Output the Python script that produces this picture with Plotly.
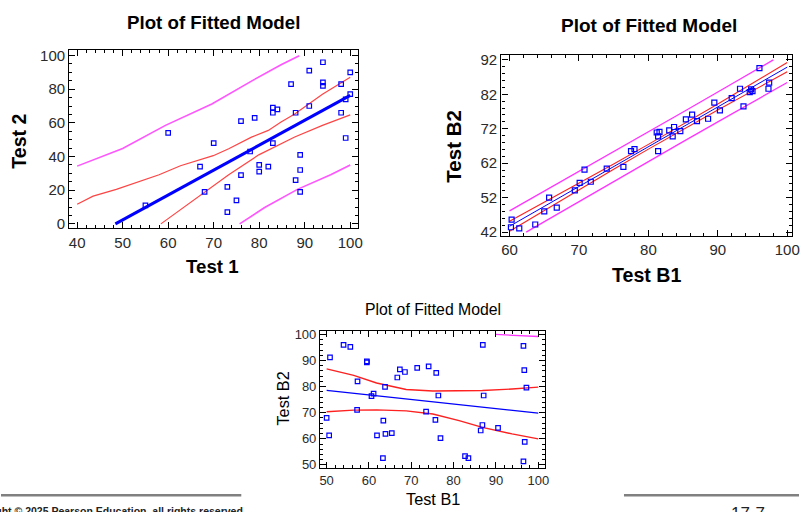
import plotly.graph_objects as go

W, H = 807, 512

# ---------------- data: top-left (Test 1 vs Test 2) ----------------
tl_x = [55, 60, 67, 70, 68, 73, 73, 75, 76, 76, 79, 78, 80, 80, 82, 83, 83, 84, 83, 87,
        88, 88, 89, 89, 89, 91, 91, 94, 94, 94, 98, 98, 99, 99, 100, 100]
tl_y = [11, 54, 34, 48, 19, 22, 7, 14, 29, 61, 63, 43, 35, 31, 34, 69, 66, 68, 48, 83,
        66, 26, 41, 32, 19, 91, 70, 96, 84, 82, 83, 66, 74, 51, 90, 77]
tl_fit_x = [48.4, 100]
tl_fit_y = [0, 76.3]
tl_cu_x = [40, 43.5, 48.6, 58, 62.7, 66.7, 69.9, 73.3, 78.3, 82, 84.8, 87.8, 93.9, 100]
tl_cu_y = [11.7, 16.5, 20.5, 29.2, 34.5, 38, 40.5, 44.6, 51.5, 55.5, 60.5, 65.3, 77, 87.1]
tl_cl_x = [58.4, 68, 73.3, 79.9, 87.8, 93.9, 100]
tl_cl_y = [0, 19, 29.2, 41, 51.6, 58.5, 64.7]
tl_pu_x = [40, 50, 59.4, 69.6, 78.3, 84.8, 88.8]
tl_pu_y = [34.3, 44.8, 58.5, 71.2, 84.8, 94.5, 99.8]
tl_pl_x = [75.7, 81.2, 88.4, 95.7, 100]
tl_pl_y = [0, 9.7, 20.5, 29.2, 35]

# ---------------- data: top-right (Test B1 vs Test B2) ----------------
tr_x = [60.2, 60.3, 61.4, 63.7, 65.0, 65.7, 66.8, 69.4, 70.1, 70.8, 71.7, 74.0, 76.4,
        77.5, 78.0, 81.2, 81.6, 81.4, 81.4, 83.0, 83.7, 83.5, 84.6, 85.4, 86.3, 87.0,
        88.6, 89.5, 90.3, 92.0, 93.2, 93.7, 94.8, 95.0, 94.6, 96.0, 97.3, 97.4]
tr_y = [43.4, 45.6, 43.1, 44.2, 48.0, 52.0, 49.1, 54.1, 56.3, 60.1, 56.6, 60.4, 60.9,
        65.5, 66.1, 70.9, 71.1, 69.8, 65.5, 71.5, 72.5, 69.8, 71.3, 74.7, 76.1, 74.2,
        74.9, 79.6, 77.3, 80.9, 83.6, 78.5, 83.4, 82.9, 82.6, 89.6, 83.6, 85.4]
tr_lx = [60, 65, 70, 75, 80, 85, 90, 95, 100]
tr_fit = [43.68, 49.45, 55.23, 61.0, 66.77, 72.55, 78.32, 84.09, 89.87]
tr_cu = [45.12, 50.63, 56.18, 61.78, 67.46, 73.28, 79.20, 85.19, 91.22]
tr_cl = [42.24, 48.27, 54.28, 60.22, 66.08, 71.82, 77.44, 82.99, 88.52]
tr_pu_x = [60, 65, 70, 75, 80, 85, 90, 95, 98.0]
tr_pu_y = [48.16, 53.85, 59.57, 65.31, 71.06, 76.85, 82.65, 88.47, 92.0]
tr_pl_x = [62.4, 65, 70, 75, 80, 85, 90, 95, 100]
tr_pl_y = [42.0, 45.05, 50.89, 56.69, 62.48, 68.25, 73.99, 79.71, 85.42]

# ---------------- data: bottom (Test B1 vs Test B2) ----------------
b_x = [50.0, 50.6, 50.8, 54.0, 55.6, 57.2, 57.3, 59.5, 59.5, 60.6, 61.1, 61.9, 63.3,
       63.4, 63.8, 63.9, 65.4, 66.7, 67.3, 68.5, 71.4, 73.5, 74.1, 75.7, 75.9, 76.4,
       76.9, 82.7, 83.5, 86.4, 86.8, 86.9, 87.1, 90.5, 96.5, 96.7, 96.8, 96.5, 97.2]
b_y = [68.0, 61.3, 91.2, 96.0, 95.2, 71.1, 82.0, 89.3, 89.7, 76.4, 77.3, 61.3, 52.6,
       67.0, 79.9, 61.9, 62.2, 83.5, 86.6, 85.6, 87.2, 70.4, 87.8, 67.3, 85.3, 76.6,
       60.3, 53.4, 52.6, 63.2, 65.3, 96.0, 76.6, 64.2, 95.6, 86.3, 58.8, 51.4, 79.6]
b_lx = [50, 56.4, 61.8, 68.8, 75.1, 81.3, 86.8, 93.8, 100]
b_fit_x = [50, 100]
b_fit_y = [78.6, 69.85]
b_cu = [86.8, 84.3, 81.4, 78.9, 78.3, 78.3, 78.5, 79.1, 79.8]
b_cl = [70.4, 71.0, 71.1, 70.7, 69.5, 67.0, 64.4, 61.9, 60.0]
b_pu_x = [89.9, 95, 100]
b_pu_y = [100, 99.6, 99.2]

BLUE = "#0000FF"
RED = "#FF2020"
MAG = "#FF33FF"
FONT = "Liberation Sans, Arial, sans-serif"

fig = go.Figure()


def add_line(x, y, color, width, ax):
    fig.add_trace(go.Scatter(x=x, y=y, mode="lines", line=dict(color=color, width=width),
                             xaxis="x" + ax, yaxis="y" + ax, hoverinfo="skip"))


def add_pts(x, y, size, ax):
    fig.add_trace(go.Scatter(x=x, y=y, mode="markers",
                             marker=dict(symbol="square-open", size=size, color=BLUE,
                                         line=dict(width=1.2, color=BLUE)),
                             xaxis="x" + ax, yaxis="y" + ax, hoverinfo="skip"))


# top-left
add_line(tl_pu_x, tl_pu_y, "#FF55FF", 1.6, "")
add_line(tl_pl_x, tl_pl_y, "#FF55FF", 1.6, "")
add_line(tl_cu_x, tl_cu_y, "#FF4444", 1.2, "")
add_line(tl_cl_x, tl_cl_y, "#FF4444", 1.2, "")
add_line(tl_fit_x, tl_fit_y, BLUE, 3.0, "")
add_pts(tl_x, tl_y, 4.5, "")

# top-right
add_line(tr_pu_x, tr_pu_y, MAG, 1.3, "2")
add_line(tr_pl_x, tr_pl_y, MAG, 1.3, "2")
add_line(tr_lx, tr_cu, RED, 1.1, "2")
add_line(tr_lx, tr_cl, RED, 1.1, "2")
add_line(tr_lx, tr_fit, BLUE, 1.0, "2")
add_pts(tr_x, tr_y, 5, "2")

# bottom
add_line(b_pu_x, b_pu_y, MAG, 1.3, "3")
add_line(b_lx, b_cu, RED, 1.4, "3")
add_line(b_lx, b_cl, RED, 1.4, "3")
add_line(b_fit_x, b_fit_y, BLUE, 1.3, "3")
add_pts(b_x, b_y, 4.5, "3")


def px(x):
    return x / W


def py(y):
    return 1 - y / H


def axis(domain, rng, dtick, minor, tick0, size, anchor):
    return dict(domain=domain, range=rng, dtick=dtick, tick0=tick0, showgrid=False,
                zeroline=False, showline=True, linecolor="black", linewidth=1.3,
                mirror="ticks", ticks="inside", ticklen=6, tickwidth=1, tickcolor="black",
                minor=dict(ticks="inside", ticklen=3, tickwidth=1, tickcolor="black",
                           dtick=minor, tick0=tick0, showgrid=False),
                tickfont=dict(family=FONT, size=size, color="#2a2a2a"),
                anchor=anchor, fixedrange=True)


layout = dict(
    width=W, height=H, margin=dict(l=0, r=0, t=0, b=0),
    paper_bgcolor="white", plot_bgcolor="white", showlegend=False,
    xaxis=axis([px(69), px(361)], [38.26, 101.7], 10, 2, 40, 15, "y"),
    yaxis=axis([py(228), py(47)], [-2.7, 103.1], 20, 5, 0, 15, "x"),
    xaxis2=axis([px(506), px(800)], [58.82, 100.7], 10, 2, 60, 15, "y2"),
    yaxis2=axis([py(236), py(51.7)], [40.77, 93.43], 10, 2, 42, 15, "x2"),
    xaxis3=axis([px(322.7), px(550)], [48.46, 101.56], 10, 2, 50, 13, "y3"),
    yaxis3=axis([py(471.7), py(331.7)], [48.7, 101.5], 10, 2, 50, 13, "x3"),
)
fig.update_layout(**layout)


def text(t, x, y, size, bold=False, angle=0, xanchor="center", yanchor="middle", color="black"):
    fig.add_annotation(text=("<b>%s</b>" % t) if bold else t, x=px(x), y=py(y),
                       xref="paper", yref="paper", showarrow=False, textangle=angle,
                       xanchor=xanchor, yanchor=yanchor,
                       font=dict(family=FONT, size=size, color=color))


text("Plot of Fitted Model", 215, 19, 18.7, bold=True)
text("Test 1", 214, 267, 18.7, bold=True)
text("Test 2", 18, 139, 19.5, bold=True, angle=-90)

text("Plot of Fitted Model", 655, 22, 19, bold=True)
text("Test B1", 653, 275, 19.6, bold=True)
text("Test B2", 458, 144, 20.5, bold=True, angle=-90)

text("Plot of Fitted Model", 437, 310, 15.8)
text("Test B1", 437, 503, 16.3)
text("Test B2", 285, 401, 16.3, angle=-90)

# slide footer
fig.add_shape(type="line", xref="paper", yref="paper", x0=0, x1=px(243), y0=py(499), y1=py(499),
              line=dict(color="#808080", width=2.5))
fig.add_shape(type="line", xref="paper", yref="paper", x0=px(630), x1=1, y0=py(499), y1=py(499),
              line=dict(color="#808080", width=2.5))
text("Copyright © 2025 Pearson Education, all rights reserved", -41, 506.5, 10.5,
     bold=True, xanchor="left", yanchor="top", color="#222")
text("17-7", 736, 506, 17, xanchor="left", yanchor="top", color="#222")

fig.write_html("out.html", config={"displayModeBar": False}, post_script=(
    "document.body.style.margin='0';document.body.style.padding='0';"
    "document.documentElement.style.overflow='hidden';"))
